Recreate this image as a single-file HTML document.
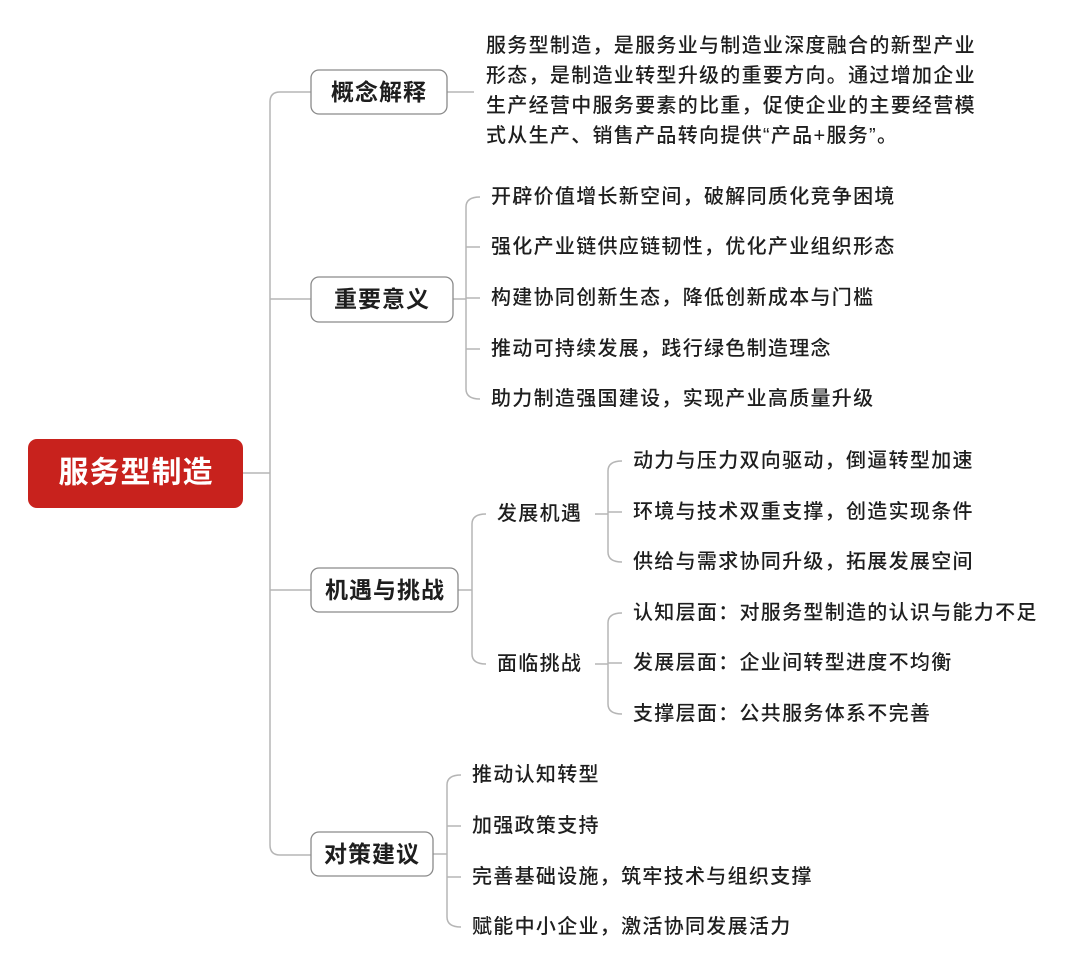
<!DOCTYPE html>
<html><head><meta charset="utf-8"><style>
html,body{margin:0;padding:0;background:#fff;}
svg{display:block;}
text{font-family:"Liberation Sans","Noto Sans CJK SC",sans-serif;fill:#1e1e1e;dominant-baseline:central;}
.i{font-size:20px;letter-spacing:1.3px;font-weight:500;}
.p{font-size:20px;letter-spacing:1.3px;font-weight:500;}
.b{font-size:23px;letter-spacing:1px;font-weight:700;}
</style></head><body>
<svg width="1080" height="979" viewBox="0 0 1080 979">
<g fill="none" stroke="#b5b5b5" stroke-width="1.5">
<path d="M243 473 H270"/>
<path d="M311 92 H280 Q270 92 270 102 V845 Q270 855 280 855 H311"/>
<path d="M270 299 H311"/>
<path d="M270 590 H311"/>
<path d="M447 92 H474"/>
<path d="M453 299 H466"/>
<path d="M480 197 Q466 197 466 207 V389 Q466 399 480 399"/>
<path d="M466 247 H480 M466 298 H480 M466 349 H480"/>
<path d="M458 590 H472"/>
<path d="M486 514 Q472 514 472 524 V654 Q472 664 486 664"/>
<path d="M595 514 H608"/>
<path d="M622 461 Q608 461 608 471 V552 Q608 562 622 562"/>
<path d="M608 512 H622"/>
<path d="M595 664 H608"/>
<path d="M622 613 Q608 613 608 623 V704 Q608 714 622 714"/>
<path d="M608 663 H622"/>
<path d="M433 854 H447"/>
<path d="M461 775 Q447 775 447 785 V917 Q447 927 461 927"/>
<path d="M447 826 H461 M447 877 H461"/>
</g>
<rect x="28" y="439" width="215" height="69" rx="9" fill="#c8221d"/>
<text x="136" y="473" text-anchor="middle" style="font-size:30px;font-weight:700;fill:#fff;letter-spacing:1px">服务型制造</text>
<g fill="#fff" stroke="#8a8a8a" stroke-width="1.3">
<rect x="311" y="70" width="136" height="44" rx="8"/>
<rect x="311" y="277" width="142" height="45" rx="8"/>
<rect x="311" y="568" width="147" height="44" rx="8"/>
<rect x="311" y="832" width="122" height="44" rx="8"/>
</g>
<text class="b" x="379" y="92" text-anchor="middle">概念解释</text>
<text class="b" x="382" y="299" text-anchor="middle">重要意义</text>
<text class="b" x="385" y="590" text-anchor="middle">机遇与挑战</text>
<text class="b" x="372" y="854" text-anchor="middle">对策建议</text>
<text class="p" x="486" y="46">服务型制造，是服务业与制造业深度融合的新型产业</text>
<text class="p" x="486" y="76">形态，是制造业转型升级的重要方向。通过增加企业</text>
<text class="p" x="486" y="106">生产经营中服务要素的比重，促使企业的主要经营模</text>
<text class="p" x="486" y="136">式从生产、销售产品转向提供“产品+服务”。</text>
<text class="i" x="491" y="197">开辟价值增长新空间，破解同质化竞争困境</text>
<text class="i" x="491" y="247">强化产业链供应链韧性，优化产业组织形态</text>
<text class="i" x="491" y="298">构建协同创新生态，降低创新成本与门槛</text>
<text class="i" x="491" y="349">推动可持续发展，践行绿色制造理念</text>
<text class="i" x="491" y="399">助力制造强国建设，实现产业高质量升级</text>
<text class="i" x="497" y="514">发展机遇</text>
<text class="i" x="497" y="664">面临挑战</text>
<text class="i" x="633" y="461">动力与压力双向驱动，倒逼转型加速</text>
<text class="i" x="633" y="512">环境与技术双重支撑，创造实现条件</text>
<text class="i" x="633" y="562">供给与需求协同升级，拓展发展空间</text>
<text class="i" x="633" y="613">认知层面：对服务型制造的认识与能力不足</text>
<text class="i" x="633" y="663">发展层面：企业间转型进度不均衡</text>
<text class="i" x="633" y="714">支撑层面：公共服务体系不完善</text>
<text class="i" x="472" y="775">推动认知转型</text>
<text class="i" x="472" y="826">加强政策支持</text>
<text class="i" x="472" y="877">完善基础设施，筑牢技术与组织支撑</text>
<text class="i" x="472" y="927">赋能中小企业，激活协同发展活力</text>
</svg>
</body></html>
